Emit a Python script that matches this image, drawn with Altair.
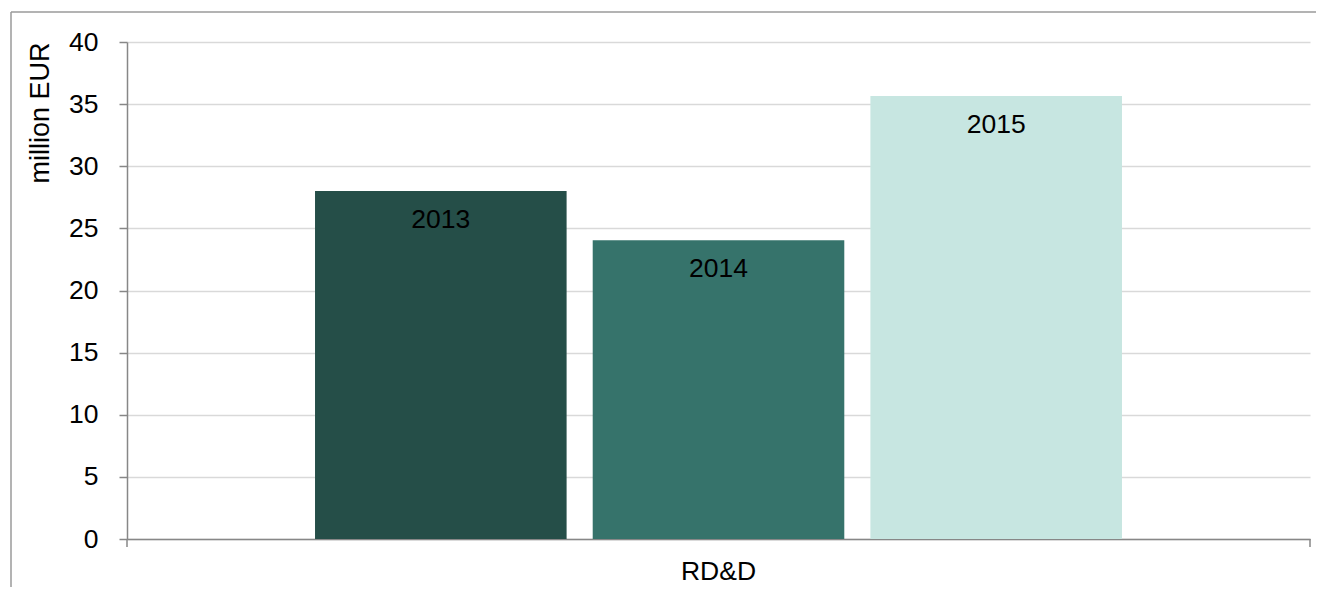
import altair as alt
import pandas as pd

categories = ["RD&D", "RD&D", "RD&D"]
years = ["2013", "2014", "2015"]
values = [28.0, 24.05, 35.65]
colors = ["#254e48", "#36736b", "#c7e6e1"]
y_ticks = [0, 5, 10, 15, 20, 25, 30, 35, 40]

df = pd.DataFrame({"category": categories, "year": years, "value": values})

W, H = 1183, 497
FONT = "Liberation Sans"
FS = 26.5
AXIS_GRAY = "#878787"

x = alt.X(
    "category:N",
    title=None,
    scale=alt.Scale(paddingInner=0, paddingOuter=0.233),
    axis=alt.Axis(labelAngle=0, ticks=False, tickSize=0, labelPadding=19,
                  labelFontSize=FS, labelFont=FONT, labelColor="#000000",
                  domainColor=AXIS_GRAY, domainWidth=1.5, labelBaseline="top"),
)
xo = alt.XOffset("year:N", scale=alt.Scale(paddingInner=0.094, paddingOuter=0))
y = alt.Y(
    "value:Q",
    title="million EUR",
    scale=alt.Scale(domain=[0, 40], nice=False, zero=True),
    axis=alt.Axis(values=y_ticks, tickSize=8, tickColor=AXIS_GRAY, tickWidth=1.5,
                  domainColor=AXIS_GRAY, domainWidth=1.5,
                  labelFontSize=FS, labelFont=FONT, labelColor="#000000", labelPadding=21,
                  grid=True, gridColor="#d9d9d9", gridWidth=1.5,
                  titleFontSize=27, titleFont=FONT, titleColor="#000000", titleFontWeight="normal",
                  titleX=-87, titleY=0, titleAlign="right", titleBaseline="middle", titleAngle=-90),
)

bars = alt.Chart(df).mark_bar().encode(
    x=x, xOffset=xo, y=y,
    color=alt.Color("year:N", scale=alt.Scale(domain=years, range=colors), legend=None),
)

labels = alt.Chart(df).mark_text(baseline="alphabetic", dy=37, fontSize=FS, font=FONT,
                                 color="#000000").encode(
    x=x, xOffset=xo, y=y, text="year:N",
)

one = pd.DataFrame({"d": [0]})
tick_left = alt.Chart(one).mark_rule(color=AXIS_GRAY, strokeWidth=1.5).encode(
    x=alt.value(0), y=alt.value(H), y2=alt.value(H + 8))
tick_right = alt.Chart(one).mark_rule(color=AXIS_GRAY, strokeWidth=1.5).encode(
    x=alt.value(W), y=alt.value(H), y2=alt.value(H + 8))
frame_top = alt.Chart(one).mark_rule(color="#9a9a9a", strokeWidth=1.5).encode(
    x=alt.value(-116), x2=alt.value(W + 40), y=alt.value(-30))
frame_left = alt.Chart(one).mark_rule(color="#9a9a9a", strokeWidth=1.5).encode(
    x=alt.value(-116), y=alt.value(-30), y2=alt.value(H + 80))

chart = alt.layer(bars, labels, tick_left, tick_right, frame_top, frame_left).properties(
    width=W, height=H,
    autosize=alt.AutoSizeParams(type="none"),
    padding={"left": 119, "top": 34, "right": 6, "bottom": 48},
).configure_view(stroke=None)

chart.save("out.html", embed_options={"renderer": "svg", "actions": False})
